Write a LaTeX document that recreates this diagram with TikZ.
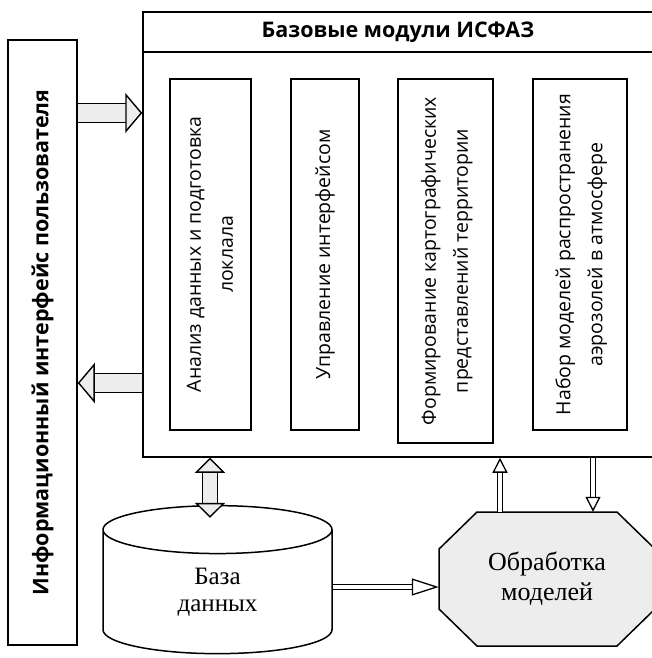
\documentclass[tikz,border=0pt]{standalone}
\usepackage{fontspec}
\usepackage{graphicx}
\setmainfont{Liberation Serif}
\newfontfamily\sansf{Open Sans}
\newcommand\modfont{\sansf\fontsize{19.5}{32}\selectfont}
\usetikzlibrary{arrows.meta,positioning,shapes.geometric}

\tikzset{
  box/.style={draw, line width=1.5pt, fill=white, inner sep=0pt},
  bigarrow/.style={draw, line width=1.4pt, double=black!7, double distance=18pt,
    -{Triangle[length=17pt, width=40pt, fill=black!7, line width=1.4pt]}},
  bigdouble/.style={bigarrow, double distance=14pt,
    {Triangle[length=15pt, width=30pt, fill=black!7, line width=1.4pt]}-{Triangle[length=15pt, width=30pt, fill=black!7, line width=1.4pt]}},
  thinarrow/.style={draw, line width=1.3pt, double=white, double distance=4pt,
    -{Triangle[length=15pt, width=15pt, fill=white, line width=1.3pt]}},
}

\begin{document}
\begin{tikzpicture}[x=1pt, y=-1pt]
  \useasboundingbox (0,0) rectangle (651,658);
  % user interface
  \node[box, minimum width=69pt, minimum height=605pt] (user) at (42.5,342.5)
    {\rotatebox{90}{\sansf\bfseries\fontsize{21.5}{24}\selectfont Информационный интерфейс пользователя}};
  % base modules
  \node[box, minimum width=516pt, minimum height=445pt] (main) at (401,234.5) {};
  \draw[line width=1.5pt] (main.west |- 0,52) -- (main.east |- 0,52);
  \node[font=\sansf\bfseries\fontsize{21.5}{24}\selectfont] (title) at (398,32) {Базовые модули ИСФАЗ};
  \node[box, minimum width=81pt, minimum height=351pt] (anal) at (210.5,254.5)
    {\rotatebox{90}{\modfont\begin{tabular}{@{}c@{}}Анализ данных и подготовка\\локлала\end{tabular}}};
  \node[box, minimum width=68pt, minimum height=351pt] (ctrl) at (325,254.5)
    {\rotatebox{90}{\modfont Управление интерфейсом}};
  \node[box, minimum width=95pt, minimum height=364pt] (carto) at (445.5,261)
    {\rotatebox{90}{\modfont\begin{tabular}{@{}c@{}}Формирование картографических\\представлений территории\end{tabular}}};
  \node[box, minimum width=94pt, minimum height=351pt] (aero) at (580,254.5)
    {\rotatebox{90}{\modfont\begin{tabular}{@{}c@{}}Набор моделей распространения\\аэрозолей в атмосфере\end{tabular}}};
  % data base
  \node[box, cylinder, shape border rotate=90, aspect=0.6, minimum width=229pt, minimum height=148pt,
    font=\fontsize{25}{30}\selectfont, align=center] (db) at (217.5,592) {База\\[-3pt]данных};
  % processing (octagon)
  \filldraw[line width=1.5pt, fill=black!7] (477,512) -- (617,512) -- (655,549) -- (655,609) -- (617,646)
    -- (477,646) -- (439,609) -- (439,549) -- cycle;
  \node[minimum width=216pt, minimum height=134pt, inner sep=0pt, font=\fontsize{26}{30}\selectfont, align=center]
    (proc) at (547,579) {Обработка\\моделей};
  % arrows
  \draw[bigarrow] (user.east |- 0,113) -- (main.west |- 0,113);
  \draw[bigarrow] (main.west |- 0,383) -- (user.east |- 0,383);
  \draw[bigdouble] (main.south -| 210,0) -- ([yshift=-13pt]db.north -| 210,0);
  \draw[thinarrow] (proc.north -| 500,0) -- (main.south -| 500,0);
  \draw[thinarrow] (main.south -| 593,0) -- (proc.north -| 593,0);
  \draw[thinarrow, -{Triangle[length=27pt, width=17pt, fill=white, line width=1.3pt]}] (db.east |- 0,587) -- (proc.west |- 0,587);
\end{tikzpicture}
\end{document}
